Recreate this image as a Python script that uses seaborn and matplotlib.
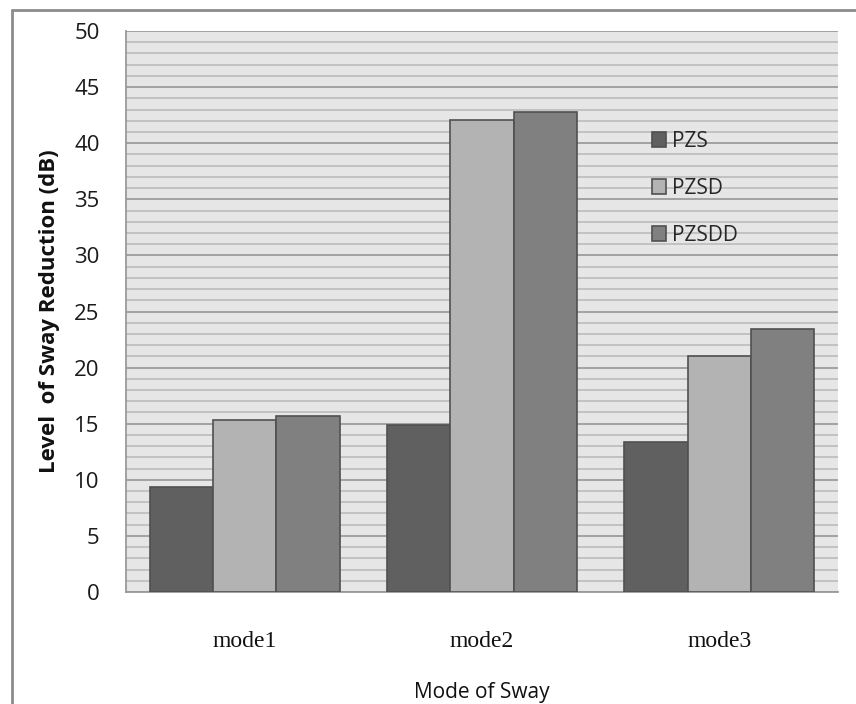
import pandas as pd
import seaborn as sns
import matplotlib.pyplot as plt
from matplotlib.lines import Line2D

# Values
modes = ['mode1', 'mode2', 'mode3']
series = ['PZS', 'PZSD', 'PZSDD']
pzs = [9.4, 14.9, 13.4]
pzsd = [15.3, 42.1, 21.0]
pzsdd = [15.7, 42.8, 23.4]
colors = ['#606060', '#b3b3b3', '#808080']

df = pd.DataFrame({
    'Mode': modes * 3,
    'Series': [s for s in series for _ in modes],
    'Value': pzs + pzsd + pzsdd,
})

sns.set_style('white')
plt.rcParams['font.family'] = ['Open Sans', 'DejaVu Sans']

W, H = 856, 704
fig = plt.figure(figsize=(W / 100, H / 100), dpi=100)
ax = fig.add_axes([126 / W, 1 - 592 / H, (838 - 126) / W, (592 - 31) / H])

sns.barplot(data=df, x='Mode', y='Value', hue='Series', palette=colors,
            width=0.8, saturation=1, edgecolor='#505050', linewidth=1.2,
            ax=ax, zorder=3)

# plot area with light grey background and horizontal grid every unit
ax.set_facecolor('#e6e6e6')
ax.set_ylim(0, 50)
ax.set_yticks(range(0, 51, 5))
ax.set_yticks(range(0, 51), minor=True)
ax.grid(which='major', axis='y', color='#9c9c9c', lw=1.3)
ax.grid(which='minor', axis='y', color='#b8b8b8', lw=1.1)
ax.set_axisbelow(True)

for side in ['top', 'right']:
    ax.spines[side].set_visible(False)
for side in ['left', 'bottom']:
    ax.spines[side].set_color('#9a9a9a')
    ax.spines[side].set_linewidth(1.3)

ax.tick_params(axis='y', which='major', length=7, width=1.2, color='#8a8a8a',
               labelsize=16, labelcolor='#1a1a1a', pad=12)
ax.tick_params(axis='y', which='minor', length=0)
ax.tick_params(axis='x', length=0, pad=28)
for lbl in ax.get_xticklabels():
    lbl.set_fontfamily('Liberation Serif')
    lbl.set_fontsize(17)
    lbl.set_color('#111111')

ax.set_xlabel('Mode of Sway', fontsize=15, color='#111111', labelpad=22)
ax.set_ylabel('Level  of Sway Reduction (dB)', fontsize=16, fontweight='bold',
              color='#111111', labelpad=10)

ax.legend(loc='upper left', bbox_to_anchor=(652 / W, 1 - 131 / H),
          bbox_transform=fig.transFigure, frameon=False, fontsize=15,
          handlelength=0.65, handleheight=0.7, handletextpad=0.3,
          labelspacing=1.25, borderpad=0, borderaxespad=0)

# border of the chart box (cropped at right and bottom)
fig.add_artist(Line2D([12 / W, 12 / W], [1 - 10 / H, 0], color='#8c8c8c', lw=2))
fig.add_artist(Line2D([12 / W, 1], [1 - 10 / H, 1 - 10 / H], color='#8c8c8c', lw=2))

fig.savefig('out.png', dpi=100)
